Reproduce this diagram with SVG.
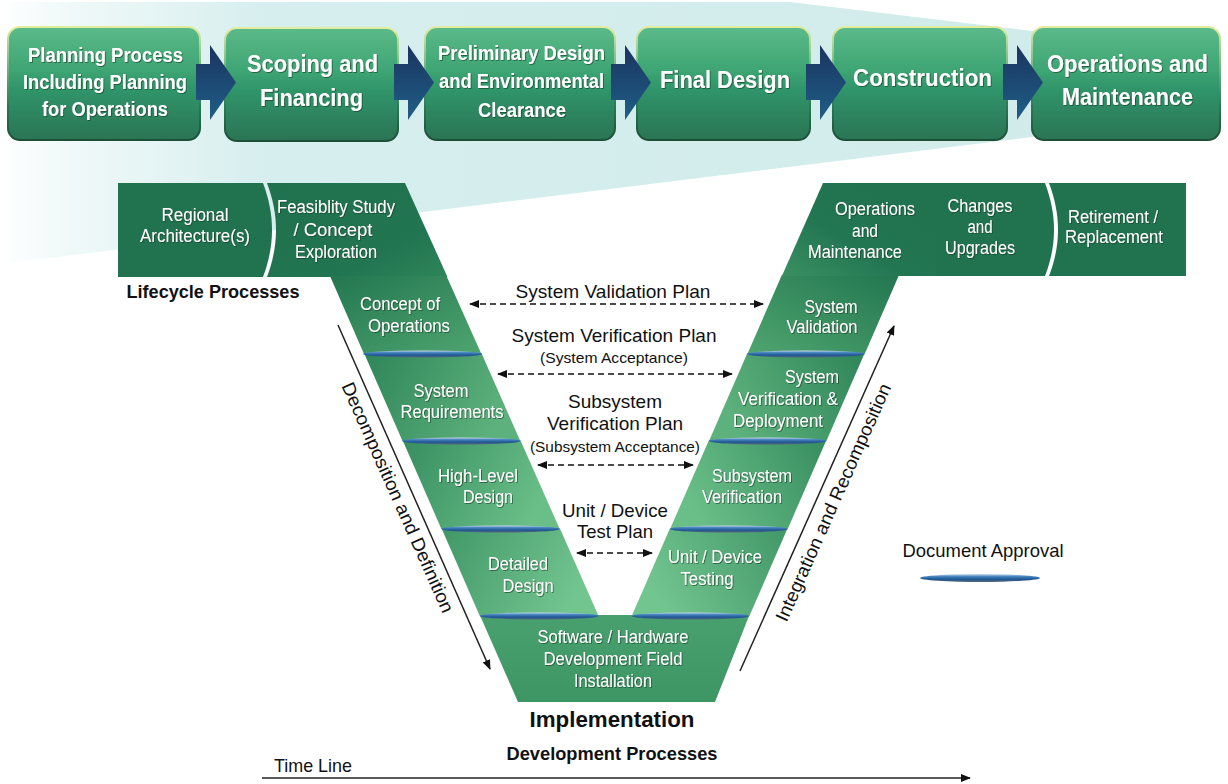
<svg xmlns="http://www.w3.org/2000/svg" width="1228" height="784" viewBox="0 0 1228 784">
<defs>
<linearGradient id="beam" x1="0" y1="0" x2="1228" y2="0" gradientUnits="userSpaceOnUse">
<stop offset="0" stop-color="#ffffff"/><stop offset="0.05" stop-color="#f1f9f9"/><stop offset="0.22" stop-color="#d6eeee"/><stop offset="1" stop-color="#d0eaea"/>
</linearGradient>
<linearGradient id="boxG" x1="0" y1="0" x2="0" y2="1">
<stop offset="0" stop-color="#5cba89"/><stop offset="0.38" stop-color="#3ea574"/><stop offset="0.55" stop-color="#30956a"/><stop offset="1" stop-color="#2a7454"/>
</linearGradient>
<linearGradient id="boxS" x1="0" y1="0" x2="0" y2="1">
<stop offset="0" stop-color="#e2ec9e"/><stop offset="0.25" stop-color="#8ec58c"/><stop offset="0.7" stop-color="#2a7a55"/><stop offset="1" stop-color="#1c4f36"/>
</linearGradient>
<linearGradient id="arrowG" x1="0" y1="0" x2="0" y2="1">
<stop offset="0" stop-color="#1a3460"/><stop offset="1" stop-color="#1f5f86"/>
</linearGradient>
<linearGradient id="gDark" x1="0" y1="0" x2="1" y2="1">
<stop offset="0" stop-color="#20714e"/><stop offset="0.7" stop-color="#227551"/><stop offset="1" stop-color="#2f8659"/>
</linearGradient>
<linearGradient id="gOps" x1="1" y1="0" x2="0" y2="1">
<stop offset="0" stop-color="#20714e"/><stop offset="0.6" stop-color="#237652"/><stop offset="1" stop-color="#3a9062"/>
</linearGradient>
<linearGradient id="gL1" x1="0" y1="0" x2="1" y2="1"><stop offset="0" stop-color="#237650"/><stop offset="1" stop-color="#4fa56f"/></linearGradient>
<linearGradient id="gL2" x1="0" y1="0" x2="1" y2="0.3"><stop offset="0" stop-color="#2e8558"/><stop offset="1" stop-color="#5db17c"/></linearGradient>
<linearGradient id="gL3" x1="0" y1="0" x2="1" y2="0.3"><stop offset="0" stop-color="#378d5f"/><stop offset="1" stop-color="#6abf88"/></linearGradient>
<linearGradient id="gL4" x1="0" y1="0" x2="1" y2="0.3"><stop offset="0" stop-color="#429768"/><stop offset="1" stop-color="#72c58f"/></linearGradient>
<linearGradient id="gR1" x1="1" y1="0" x2="0" y2="1"><stop offset="0" stop-color="#237650"/><stop offset="1" stop-color="#4fa56f"/></linearGradient>
<linearGradient id="gR2" x1="1" y1="0" x2="0" y2="0.3"><stop offset="0" stop-color="#2e8558"/><stop offset="1" stop-color="#5db17c"/></linearGradient>
<linearGradient id="gR3" x1="1" y1="0" x2="0" y2="0.3"><stop offset="0" stop-color="#378d5f"/><stop offset="1" stop-color="#6abf88"/></linearGradient>
<linearGradient id="gR4" x1="1" y1="0" x2="0" y2="0.3"><stop offset="0" stop-color="#429768"/><stop offset="1" stop-color="#72c58f"/></linearGradient>
<linearGradient id="gBot" x1="0" y1="0" x2="0" y2="1"><stop offset="0" stop-color="#47a06d"/><stop offset="1" stop-color="#3d9664"/></linearGradient>
<linearGradient id="oval" x1="0" y1="0" x2="0" y2="1">
<stop offset="0" stop-color="#d2e2f0"/><stop offset="0.3" stop-color="#4a86c0"/><stop offset="0.65" stop-color="#1d5794"/><stop offset="1" stop-color="#59687a"/>
</linearGradient>
<filter id="ts" x="-10%" y="-30%" width="120%" height="160%">
<feDropShadow dx="0.8" dy="0.8" stdDeviation="0.5" flood-color="#0a3a22" flood-opacity="0.75"/>
</filter>
<marker id="ah" viewBox="0 0 10 8" refX="9" refY="4" markerWidth="10" markerHeight="8" markerUnits="userSpaceOnUse" orient="auto-start-reverse">
<path d="M0,0 L10,4 L0,8 Z" fill="#111"/>
</marker>
<style>
.box{fill:url(#boxG);stroke:url(#boxS);stroke-width:2}
.bt{font-family:"Liberation Sans",Arial,sans-serif;font-weight:bold;fill:#ffffff;text-anchor:middle;filter:url(#ts)}
.vt{font-family:"Liberation Sans",Arial,sans-serif;font-size:17.5px;fill:#ffffff;text-anchor:middle;filter:url(#ts)}
.lt{font-family:"Liberation Sans",Arial,sans-serif;font-size:18.5px;fill:#111111;text-anchor:middle}
.st{font-family:"Liberation Sans",Arial,sans-serif;font-size:15px;fill:#111111;text-anchor:middle}
.hd{font-family:"Liberation Sans",Arial,sans-serif;font-weight:bold;fill:#111111;text-anchor:middle}
.ov{fill:url(#oval)}
.arr{fill:url(#arrowG)}
.dash{stroke:#111;stroke-width:1.6;stroke-dasharray:6 4;fill:none;marker-start:url(#ah);marker-end:url(#ah)}
.sol{stroke:#222;stroke-width:1.5;fill:none;marker-end:url(#ah)}
</style>
</defs>

<rect x="0" y="0" width="1228" height="784" fill="#ffffff"/>
<path id="beam-bg" d="M0,2 L790,2 L1040,32 L1040,136 L0,264 Z" fill="url(#beam)"/>

<!-- V diagram nodes -->
<g id="regional">
<path d="M118,183 L263,183 C275,215 275,245 263,277 L118,277 Z" fill="#21734f"/>
<text class="vt" x="195" y="221" textLength="67" lengthAdjust="spacingAndGlyphs">Regional</text>
<text class="vt" x="195" y="242" textLength="110" lengthAdjust="spacingAndGlyphs">Architecture(s)</text>
</g>
<g id="feasibility">
<path d="M267,183 L405,183 L447.5,277 L267,277 C279,245 279,215 267,183 Z" fill="url(#gDark)"/>
<text class="vt" x="336" y="213" textLength="118" lengthAdjust="spacingAndGlyphs">Feasiblity Study</text>
<text class="vt" x="333" y="236" textLength="79" lengthAdjust="spacingAndGlyphs">/ Concept</text>
<text class="vt" x="336" y="258" textLength="82" lengthAdjust="spacingAndGlyphs">Exploration</text>
</g>
<g id="concept">
<path d="M330,276 L446.5,276 L481.4,354 L364,354 Z" fill="url(#gL1)"/>
<text class="vt" x="400" y="310" textLength="80" lengthAdjust="spacingAndGlyphs">Concept of</text>
<text class="vt" x="409" y="332" textLength="82" lengthAdjust="spacingAndGlyphs">Operations</text>
</g>
<g id="sysreq">
<path d="M364,353 L481.4,353 L520.3,441 L402.5,441 Z" fill="url(#gL2)"/>
<text class="vt" x="441" y="397" textLength="55" lengthAdjust="spacingAndGlyphs">System</text>
<text class="vt" x="452" y="418" textLength="103" lengthAdjust="spacingAndGlyphs">Requirements</text>
</g>
<g id="hld">
<path d="M402.5,440 L520.3,440 L559.7,529 L441.4,529 Z" fill="url(#gL3)"/>
<text class="vt" x="478" y="482" textLength="80" lengthAdjust="spacingAndGlyphs">High-Level</text>
<text class="vt" x="488" y="503" textLength="50" lengthAdjust="spacingAndGlyphs">Design</text>
</g>
<g id="dd">
<path d="M441.4,528 L559.7,528 L598.6,616 L479.8,616 Z" fill="url(#gL4)"/>
<text class="vt" x="518" y="570" textLength="60" lengthAdjust="spacingAndGlyphs">Detailed</text>
<text class="vt" x="528" y="592" textLength="51" lengthAdjust="spacingAndGlyphs">Design</text>
</g>
<g id="implementation">
<path d="M479.8,615 L749.4,615 L715,702 L518,702 Z" fill="url(#gBot)"/>
<text class="vt" x="613" y="643" textLength="151" lengthAdjust="spacingAndGlyphs">Software / Hardware</text>
<text class="vt" x="613" y="665" textLength="139" lengthAdjust="spacingAndGlyphs">Development Field</text>
<text class="vt" x="613" y="687" textLength="78" lengthAdjust="spacingAndGlyphs">Installation</text>
</g>
<g id="unit-testing">
<path d="M670.1,528 L787.7,528 L749.4,616 L631.7,616 Z" fill="url(#gR4)"/>
<text class="vt" x="715" y="563" textLength="94" lengthAdjust="spacingAndGlyphs">Unit / Device</text>
<text class="vt" x="707" y="585" textLength="53" lengthAdjust="spacingAndGlyphs">Testing</text>
</g>
<g id="subsys-verif">
<path d="M709,440 L826.4,440 L787.7,529 L670.1,529 Z" fill="url(#gR3)"/>
<text class="vt" x="752" y="482" textLength="80" lengthAdjust="spacingAndGlyphs">Subsystem</text>
<text class="vt" x="742" y="503" textLength="80" lengthAdjust="spacingAndGlyphs">Verification</text>
</g>
<g id="sys-verif">
<path d="M747.4,353 L864.7,353 L826.4,441 L709,441 Z" fill="url(#gR2)"/>
<text class="vt" x="812" y="383" textLength="54" lengthAdjust="spacingAndGlyphs">System</text>
<text class="vt" x="788" y="405" textLength="100" lengthAdjust="spacingAndGlyphs">Verification &amp;</text>
<text class="vt" x="778" y="427" textLength="90" lengthAdjust="spacingAndGlyphs">Deployment</text>
</g>
<g id="sys-valid">
<path d="M781.9,275 L899,275 L864.7,354 L747.4,354 Z" fill="url(#gR1)"/>
<text class="vt" x="831" y="313" textLength="53" lengthAdjust="spacingAndGlyphs">System</text>
<text class="vt" x="822" y="333" textLength="71" lengthAdjust="spacingAndGlyphs">Validation</text>
</g>
<g id="ops-maint">
<path d="M823,183 L937,183 L937,276 L781.9,276 Z" fill="url(#gOps)"/>
<text class="vt" x="875" y="215" textLength="80" lengthAdjust="spacingAndGlyphs">Operations</text>
<text class="vt" x="865" y="237" textLength="26" lengthAdjust="spacingAndGlyphs">and</text>
<text class="vt" x="855" y="258" textLength="94" lengthAdjust="spacingAndGlyphs">Maintenance</text>
</g>
<g id="changes">
<path d="M936,183 L1045,183 C1057,215 1057,245 1045,276 L936,276 Z" fill="#21734f"/>
<text class="vt" x="980" y="212" textLength="65" lengthAdjust="spacingAndGlyphs">Changes</text>
<text class="vt" x="980" y="233" textLength="25" lengthAdjust="spacingAndGlyphs">and</text>
<text class="vt" x="980" y="254" textLength="70" lengthAdjust="spacingAndGlyphs">Upgrades</text>
</g>
<g id="retirement">
<path d="M1049,183 L1186,183 L1186,276 L1049,276 C1061,245 1061,215 1049,183 Z" fill="#21734f"/>
<text class="vt" x="1113" y="223" textLength="90" lengthAdjust="spacingAndGlyphs">Retirement /</text>
<text class="vt" x="1114" y="243" textLength="98" lengthAdjust="spacingAndGlyphs">Replacement</text>
</g>

<!-- document approval ovals -->
<g id="approvals">
<ellipse class="ov" cx="422.7" cy="354" rx="59.5" ry="3.6"/>
<ellipse class="ov" cx="461.4" cy="441" rx="59" ry="3.6"/>
<ellipse class="ov" cx="500.5" cy="529" rx="59" ry="3.6"/>
<ellipse class="ov" cx="539.2" cy="616" rx="59.4" ry="3.6"/>
<ellipse class="ov" cx="806" cy="354" rx="58.6" ry="3.6"/>
<ellipse class="ov" cx="767.7" cy="441" rx="58.7" ry="3.6"/>
<ellipse class="ov" cx="728.9" cy="529" rx="58.8" ry="3.6"/>
<ellipse class="ov" cx="690.5" cy="616" rx="58.8" ry="3.6"/>
</g>

<!-- top process boxes -->
<g id="planning">
<rect class="box" x="8" y="27" width="192" height="113" rx="12"/>
<text class="bt" font-size="19.5" x="105.5" y="62" textLength="155" lengthAdjust="spacingAndGlyphs">Planning Process</text>
<text class="bt" font-size="19.5" x="105" y="89" textLength="164" lengthAdjust="spacingAndGlyphs">Including Planning</text>
<text class="bt" font-size="19.5" x="105" y="116" textLength="126" lengthAdjust="spacingAndGlyphs">for Operations</text>
</g>
<g id="scoping">
<rect class="box" x="225" y="28" width="173" height="113" rx="12"/>
<text class="bt" font-size="24" x="312.5" y="72" textLength="131" lengthAdjust="spacingAndGlyphs">Scoping and</text>
<text class="bt" font-size="24" x="311.5" y="106" textLength="103" lengthAdjust="spacingAndGlyphs">Financing</text>
</g>
<g id="prelim">
<rect class="box" x="425" y="27" width="190" height="113" rx="12"/>
<text class="bt" font-size="20.5" x="521.5" y="60" textLength="167" lengthAdjust="spacingAndGlyphs">Preliminary Design</text>
<text class="bt" font-size="20.5" x="521.5" y="88" textLength="165" lengthAdjust="spacingAndGlyphs">and Environmental</text>
<text class="bt" font-size="20.5" x="522" y="117" textLength="88" lengthAdjust="spacingAndGlyphs">Clearance</text>
</g>
<g id="final-design">
<rect class="box" x="637" y="27" width="173" height="113" rx="12"/>
<text class="bt" font-size="23" x="725" y="88" textLength="130" lengthAdjust="spacingAndGlyphs">Final Design</text>
</g>
<g id="construction">
<rect class="box" x="833" y="27" width="174" height="113" rx="12"/>
<text class="bt" font-size="24" x="922.5" y="86" textLength="139" lengthAdjust="spacingAndGlyphs">Construction</text>
</g>
<g id="ops-top">
<rect class="box" x="1032" y="27" width="188" height="113" rx="12"/>
<text class="bt" font-size="24" x="1127.5" y="72" textLength="161" lengthAdjust="spacingAndGlyphs">Operations and</text>
<text class="bt" font-size="24" x="1127.5" y="105" textLength="131" lengthAdjust="spacingAndGlyphs">Maintenance</text>
</g>

<!-- labels -->
<g id="labels">
<text class="hd" font-size="19" x="213" y="298" textLength="173" lengthAdjust="spacingAndGlyphs">Lifecycle Processes</text>
<text class="lt" x="613" y="298" textLength="195" lengthAdjust="spacingAndGlyphs">System Validation Plan</text>
<text class="lt" x="614" y="342" textLength="205" lengthAdjust="spacingAndGlyphs">System Verification Plan</text>
<text class="st" x="614" y="363" textLength="148" lengthAdjust="spacingAndGlyphs">(System Acceptance)</text>
<text class="lt" x="615" y="408" textLength="94" lengthAdjust="spacingAndGlyphs">Subsystem</text>
<text class="lt" x="615" y="430" textLength="136" lengthAdjust="spacingAndGlyphs">Verification Plan</text>
<text class="st" x="615" y="452" textLength="170" lengthAdjust="spacingAndGlyphs">(Subsystem Acceptance)</text>
<text class="lt" x="615" y="517" textLength="106" lengthAdjust="spacingAndGlyphs">Unit / Device</text>
<text class="lt" x="615" y="538" textLength="76" lengthAdjust="spacingAndGlyphs">Test Plan</text>
<text class="hd" font-size="22" x="612" y="727" textLength="165" lengthAdjust="spacingAndGlyphs">Implementation</text>
<text class="hd" font-size="18" x="612" y="760" textLength="211" lengthAdjust="spacingAndGlyphs">Development Processes</text>
<text class="lt" font-size="18" x="313" y="772" textLength="78" lengthAdjust="spacingAndGlyphs">Time Line</text>
<text class="lt" font-size="18" x="983" y="557" textLength="161" lengthAdjust="spacingAndGlyphs">Document Approval</text>
<text class="lt" font-size="19" transform="translate(392,500) rotate(66)" x="0" y="0" textLength="250" lengthAdjust="spacingAndGlyphs">Decomposition and Definition</text>
<text class="lt" font-size="19" transform="translate(839,505) rotate(-66)" x="0" y="0" textLength="258" lengthAdjust="spacingAndGlyphs">Integration and Recomposition</text>
<ellipse class="ov" cx="980" cy="578" rx="60" ry="4"/>
</g>

<!-- connectors -->
<g id="connectors">
<path class="arr" d="M196,64 L210,64 L210,45 L236,82.5 L210,120 L210,100 L196,100 Z"/>
<path class="arr" d="M394,64 L408,64 L408,45 L434,82.5 L408,120 L408,100 L394,100 Z"/>
<path class="arr" d="M611,64 L625,64 L625,45 L651,82.5 L625,120 L625,100 L611,100 Z"/>
<path class="arr" d="M806,64 L820,64 L820,45 L846,82.5 L820,120 L820,100 L806,100 Z"/>
<path class="arr" d="M1003,64 L1017,64 L1017,45 L1043,82.5 L1017,120 L1017,100 L1003,100 Z"/>
<line class="dash" x1="470" y1="304" x2="763" y2="304"/>
<line class="dash" x1="498" y1="374" x2="732" y2="374"/>
<line class="dash" x1="538" y1="465" x2="693" y2="465"/>
<line class="dash" x1="577" y1="553" x2="652" y2="553"/>
<line class="sol" x1="338" y1="325" x2="490" y2="669"/>
<line class="sol" x1="740" y1="671" x2="894" y2="326"/>
<line class="sol" x1="262" y1="778" x2="970" y2="778"/>
</g>
</svg>
